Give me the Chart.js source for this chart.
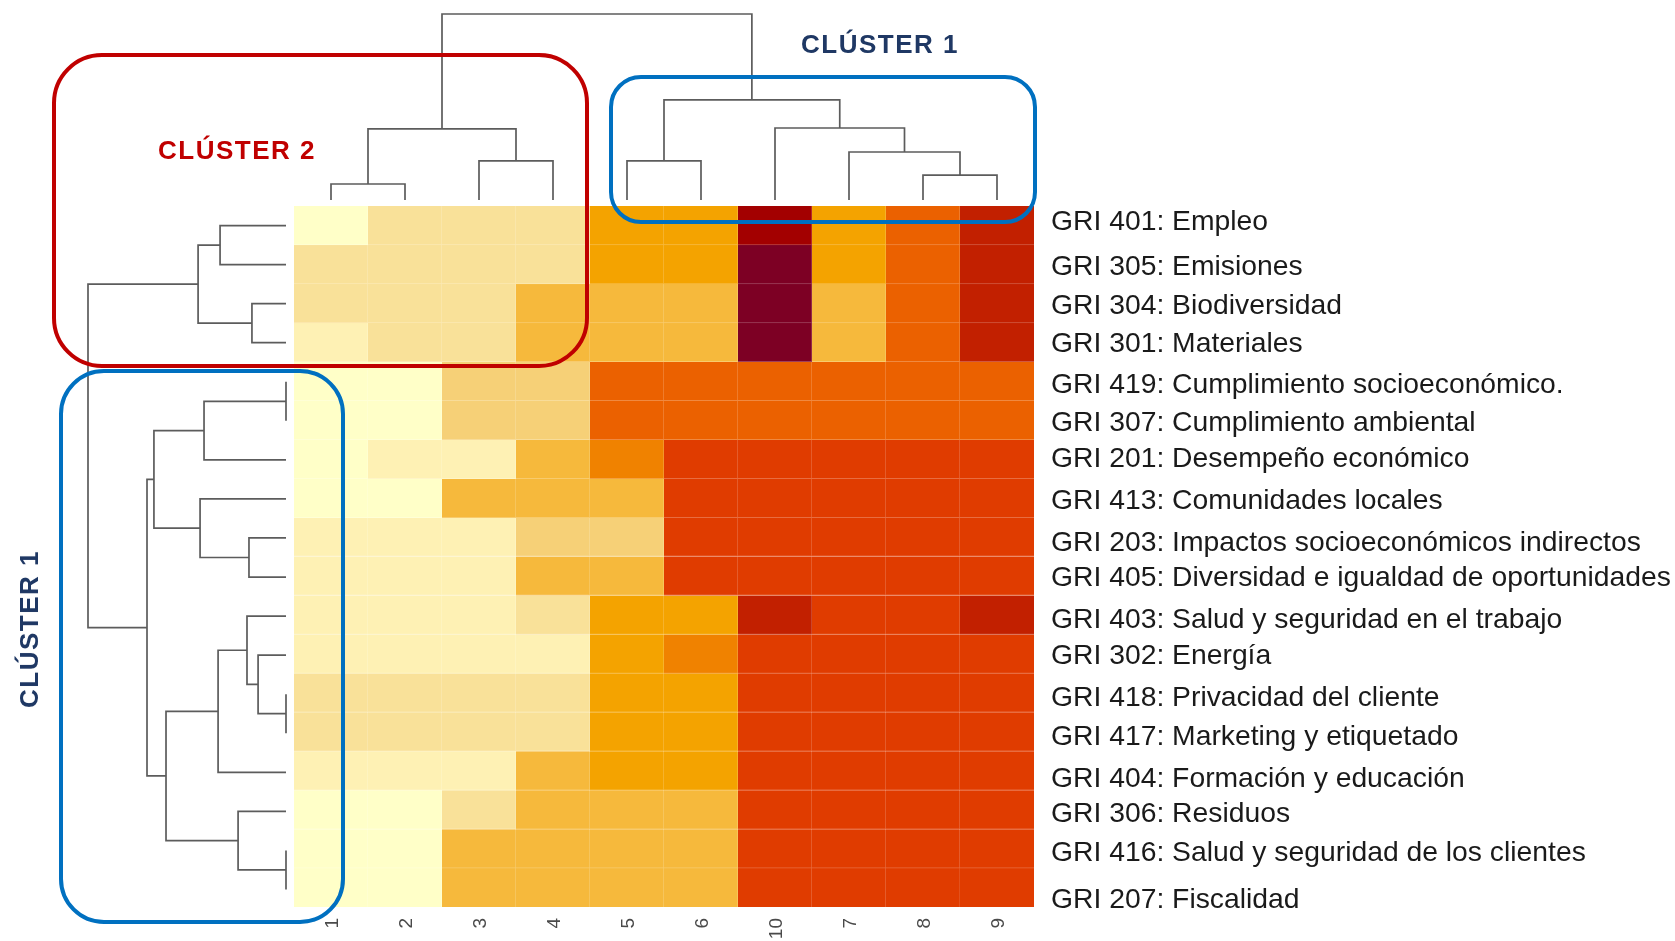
<!DOCTYPE html>
<html lang="es">
<head>
<meta charset="utf-8">
<title>Heatmap GRI con dendrogramas</title>
<script src="https://cdn.jsdelivr.net/npm/chart.js@4.4.1/dist/chart.umd.min.js"></script>
<style>
  html, body { margin:0; padding:0; background:#ffffff; }
  #stage { position:relative; width:1675px; height:941px; overflow:hidden; background:#ffffff; }
  #stage canvas { position:absolute; left:0; top:0; }
  .box { position:absolute; box-sizing:border-box; border-style:solid; border-width:4px; background:transparent; }
  .clabel { position:absolute; font-family:'Liberation Sans', Arial, sans-serif; font-weight:700; font-size:26px;
            letter-spacing:1.5px; line-height:1; white-space:nowrap; transform:translate(-50%,-50%); }
</style>
</head>
<body>
<div id="stage">
  <canvas id="heatCanvas" width="1675" height="941"></canvas>
  <canvas id="topDendro" width="1675" height="941"></canvas>
  <canvas id="leftDendro" width="1675" height="941"></canvas>
  <div class="box" style="left:52px;top:53px;width:537px;height:315px;border-color:#C00000;border-radius:50px;"></div>
  <div class="box" style="left:609px;top:75px;width:428px;height:149px;border-color:#0070C0;border-radius:32px;"></div>
  <div class="box" style="left:59px;top:369px;width:286px;height:555px;border-color:#0070C0;border-radius:45px;"></div>
  <div class="clabel" style="left:237px;top:150px;color:#C00000;">CLÚSTER 2</div>
  <div class="clabel" style="left:880px;top:44px;color:#1F3864;">CLÚSTER 1</div>
  <div class="clabel" style="left:29px;top:629px;color:#1F3864;transform:translate(-50%,-50%) rotate(-90deg);">CLÚSTER 1</div>
</div>
<script>
// ---------- DATA ----------
const columnLabels = ['1','2','3','4','5','6','10','7','8','9'];

const rowLabels = [
  'GRI 401: Empleo',
  'GRI 305: Emisiones',
  'GRI 304: Biodiversidad',
  'GRI 301: Materiales',
  'GRI 419: Cumplimiento socioeconómico.',
  'GRI 307: Cumplimiento ambiental',
  'GRI 201: Desempeño económico',
  'GRI 413: Comunidades locales',
  'GRI 203: Impactos socioeconómicos indirectos',
  'GRI 405: Diversidad e igualdad de oportunidades',
  'GRI 403: Salud y seguridad en el trabajo',
  'GRI 302: Energía',
  'GRI 418: Privacidad del cliente',
  'GRI 417: Marketing y etiquetado',
  'GRI 404: Formación y educación',
  'GRI 306: Residuos',
  'GRI 416: Salud y seguridad de los clientes',
  'GRI 207: Fiscalidad'
];

// colour for each intensity level (0 = lowest)
const levelColors = ['#FFFFC8','#FEF1B4','#F9E199','#F6D077','#F6B93C','#F4A300',
                     '#F08200','#EB6100','#E03C00','#C22000','#A30000','#7D0024'];

// intensity level per row, columns in display order 1,2,3,4,5,6,10,7,8,9
const gri401 = [0,2,2,2,5,5,10,5,7,9];
const gri305 = [2,2,2,2,5,5,11,5,7,9];
const gri304 = [2,2,2,4,4,4,11,4,7,9];
const gri301 = [1,2,2,4,4,4,11,4,7,9];
const gri419 = [0,0,3,3,7,7,7,7,7,7];
const gri307 = [0,0,3,3,7,7,7,7,7,7];
const gri201 = [0,1,1,4,6,8,8,8,8,8];
const gri413 = [0,0,4,4,4,8,8,8,8,8];
const gri203 = [1,1,1,3,3,8,8,8,8,8];
const gri405 = [1,1,1,4,4,8,8,8,8,8];
const gri403 = [1,1,1,2,5,5,9,8,8,9];
const gri302 = [1,1,1,1,5,6,8,8,8,8];
const gri418 = [2,2,2,2,5,5,8,8,8,8];
const gri417 = [2,2,2,2,5,5,8,8,8,8];
const gri404 = [1,1,1,4,5,5,8,8,8,8];
const gri306 = [0,0,2,4,4,4,8,8,8,8];
const gri416 = [0,0,4,4,4,4,8,8,8,8];
const gri207 = [0,0,4,4,4,4,8,8,8,8];

const heatRows = [gri401, gri305, gri304, gri301, gri419, gri307, gri201, gri413, gri203,
                  gri405, gri403, gri302, gri418, gri417, gri404, gri306, gri416, gri207];

// dendrogram merges: [a, b, height]; negative = leaf at display position (1-based), positive = earlier merge
const columnMerges = [
  [-1, -2, 0.86],
  [-3, -4, 2.10],
  [1, 2, 3.82],
  [-5, -6, 2.10],
  [-9, -10, 1.34],
  [-8, 5, 2.58],
  [-7, 6, 3.87],
  [4, 7, 5.38],
  [3, 8, 10]
];

const rowMerges = [
  [-1, -2, 3.33],
  [-3, -4, 1.72],
  [1, 2, 4.44],
  [-5, -6, 0],
  [4, -7, 4.14],
  [-9, -10, 1.87],
  [-8, 6, 4.34],
  [5, 7, 6.67],
  [-13, -14, 0],
  [-12, 9, 1.41],
  [-11, 10, 1.97],
  [11, -15, 3.43],
  [-17, -18, 0],
  [-16, 13, 2.42],
  [12, 14, 6.06],
  [8, 15, 7.02],
  [3, 16, 10]
];

// ---------- LAYOUT (label placement, in row units, as placed in the original figure) ----------
const rowLabelPlacement = [0.42, 1.58, 2.56, 3.56, 4.61, 5.58, 6.50, 7.58, 8.66,
                           9.56, 10.64, 11.56, 12.64, 13.64, 14.72, 15.61, 16.61, 17.83];

// ---------- RENDERING ----------
const FONT = "'Liberation Sans', Arial, sans-serif";
Chart.defaults.font.family = FONT;
Chart.defaults.animation = false;

function mixWhite(hex, t) {
  const n = parseInt(hex.slice(1), 16);
  const m = v => Math.round(v + (255 - v) * t);
  return 'rgb(' + m((n >> 16) & 255) + ',' + m((n >> 8) & 255) + ',' + m(n & 255) + ')';
}

const nRows = heatRows.length;
const nCols = columnLabels.length;

new Chart(document.getElementById('heatCanvas'), {
  type: 'bar',
  data: {
    labels: columnLabels,
    datasets: heatRows.map((levels, r) => ({
      label: rowLabels[r],
      data: levels.map(() => [r, r + 1]),
      backgroundColor: levels.map(l => levelColors[l]),
      borderColor: levels.map(l => mixWhite(levelColors[l], 0.25)),
      borderWidth: (ctx) => ({ top: 0, left: 0,
                               right: ctx.dataIndex < nCols - 1 ? 1 : 0,
                               bottom: r < nRows - 1 ? 1 : 0 }),
      borderSkipped: false,
      barPercentage: 1,
      categoryPercentage: 1,
      grouped: false
    }))
  },
  options: {
    responsive: false,
    animation: false,
    events: [],
    layout: { padding: { left: 294, top: 206, right: 0, bottom: 0 } },
    plugins: { legend: { display: false }, tooltip: { enabled: false } },
    scales: {
      x: {
        type: 'category', offset: true,
        grid: { display: false, drawTicks: false }, border: { display: false },
        ticks: { autoSkip: false, minRotation: 90, maxRotation: 90, padding: 11, labelOffset: 2,
                 color: '#4a4a4a', font: { size: 19 } },
        afterFit(s) { s.height = 32; }
      },
      y: { type: 'linear', min: 0, max: nRows, reverse: true, display: false },
      rows: {
        type: 'linear', axis: 'y', position: 'right', min: 0, max: nRows, reverse: true,
        afterBuildTicks(s) { s.ticks = rowLabelPlacement.map(v => ({ value: v })); },
        grid: { display: false, drawTicks: false }, border: { display: false },
        ticks: { autoSkip: false, padding: 17, color: '#1a1a1a', font: { size: 28.3 },
                 callback: (v, i) => rowLabels[i] },
        afterFit(s) { s.width = 641; }
      }
    }
  }
});

function dendroDatasets(merges, orient) {
  const pos = [], hgt = [];
  const ref = k => k < 0 ? { p: -k - 1, h: 0 } : { p: pos[k - 1], h: hgt[k - 1] };
  return merges.map(([a, b, h], i) => {
    const A = ref(a), B = ref(b);
    pos[i] = (A.p + B.p) / 2;
    hgt[i] = h;
    const pts = [[A.p, A.h], [A.p, h], [B.p, h], [B.p, B.h]];
    return {
      data: pts.map(([p, v]) => orient === 'top' ? { x: p, y: v } : { x: v, y: p }),
      showLine: true, borderColor: '#5c5c5c', borderWidth: 1.7,
      pointRadius: 0, pointHoverRadius: 0, fill: false, tension: 0, clip: false
    };
  });
}

new Chart(document.getElementById('topDendro'), {
  type: 'scatter',
  data: { datasets: dendroDatasets(columnMerges, 'top') },
  options: {
    responsive: false, animation: false, events: [],
    layout: { padding: { left: 294, right: 641, top: 14, bottom: 741 } },
    plugins: { legend: { display: false }, tooltip: { enabled: false } },
    scales: {
      x: { type: 'linear', min: -0.5, max: nCols - 0.5, display: false },
      y: { type: 'linear', min: 0, max: 10, display: false }
    }
  }
});

new Chart(document.getElementById('leftDendro'), {
  type: 'scatter',
  data: { datasets: dendroDatasets(rowMerges, 'left') },
  options: {
    responsive: false, animation: false, events: [],
    layout: { padding: { left: 88, right: 1389, top: 206, bottom: 32 } },
    plugins: { legend: { display: false }, tooltip: { enabled: false } },
    scales: {
      x: { type: 'linear', min: 0, max: 10, reverse: true, display: false },
      y: { type: 'linear', min: -0.5, max: nRows - 0.5, reverse: true, display: false }
    }
  }
});
</script>
</body>
</html>
